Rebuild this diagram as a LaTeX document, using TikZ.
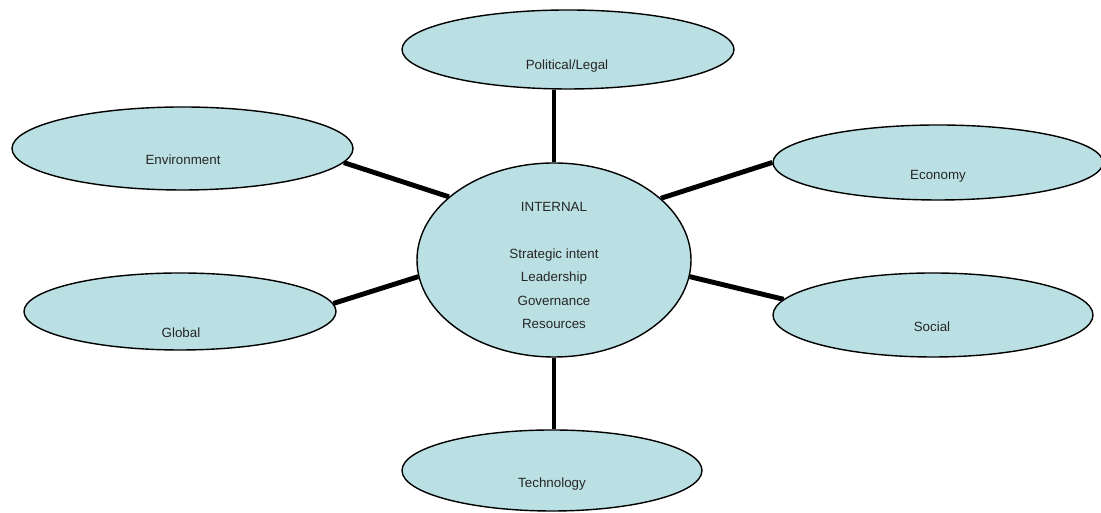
\documentclass[tikz,border=0pt]{standalone}
\usepackage{fontspec}
\setmainfont{Liberation Sans}
\usepackage{tikz}
\usetikzlibrary{shapes.geometric, backgrounds}
\definecolor{bubblefill}{RGB}{187,224,227}

\begin{document}
\begin{tikzpicture}[scale=1.0,
    bubble/.style={ellipse, draw=black, line width=0.8pt, fill=bubblefill, inner sep=0pt},
    bubbletext/.style={text=black!85, font=\fontsize{7.6}{13.3}\selectfont, align=center, inner sep=0pt},
    spoke/.style={line width=2.8pt}]
  \useasboundingbox (0,0) rectangle (22.02,10.26);
  % centre bubble
  \node[bubble, minimum width=5.48cm, minimum height=3.88cm] (intl) at (11.08,5.06) {};
  \node[bubbletext] (intl-txt) at (11.08,4.95)
    {INTERNAL\\ \\Strategic intent\\Leadership\\Governance\\Resources};
  % outer bubbles
  \node[bubble, minimum width=6.64cm, minimum height=1.58cm] (pol) at (11.36,9.27) {};
  \node[bubble, minimum width=6.82cm, minimum height=1.66cm] (env) at (3.65,7.29) {};
  \node[bubble, minimum width=6.60cm, minimum height=1.50cm] (econ) at (18.76,7.01) {};
  \node[bubble, minimum width=6.24cm, minimum height=1.54cm] (glob) at (3.60,4.03) {};
  \node[bubble, minimum width=6.40cm, minimum height=1.68cm] (soc) at (18.66,3.96) {};
  \node[bubble, minimum width=6.00cm, minimum height=1.62cm] (tech) at (11.04,0.85) {};
  \node[bubbletext] (pol-txt) at (11.34,8.94) {Political/Legal};
  \node[bubbletext] (env-txt) at (3.66,7.06) {Environment};
  \node[bubbletext] (econ-txt) at (18.76,6.74) {Economy};
  \node[bubbletext] (glob-txt) at (3.62,3.60) {Global};
  \node[bubbletext] (soc-txt) at (18.64,3.72) {Social};
  \node[bubbletext] (tech-txt) at (11.04,0.58) {Technology};
  % spokes
  \begin{scope}[on background layer]
    \draw[spoke] (intl.north) -- (intl.north |- pol.south);
    \draw[spoke] (intl.south) -- (intl.south |- tech.north);
    \draw[spoke] (intl.149.3) -- (env.-5.7);
    \draw[spoke] (intl.30.7) -- (econ.180);
    \draw[spoke] (intl.187.6) -- (glob.3.2);
    \draw[spoke] (intl.-7.2) -- (soc.174.7);
  \end{scope}
\end{tikzpicture}
\end{document}
